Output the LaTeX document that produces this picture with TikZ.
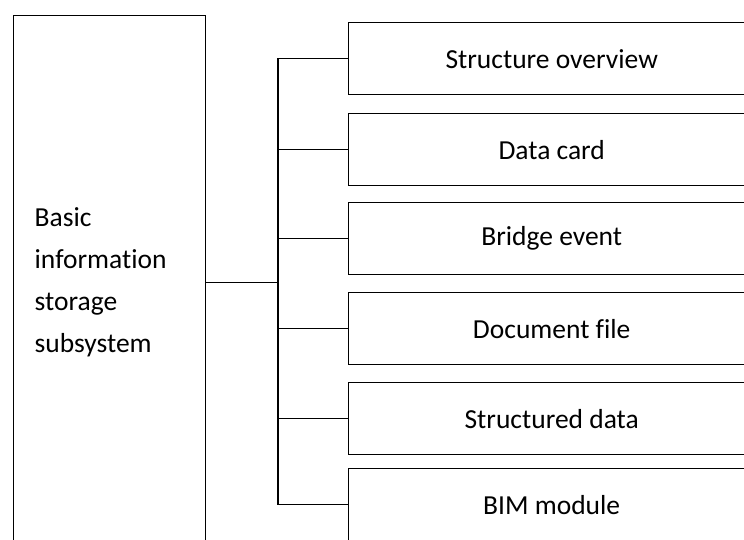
\documentclass[tikz,border=0pt]{standalone}
\usepackage{fontspec}
\setmainfont[Ligatures={NoCommon}]{Carlito}
\begin{document}
\begin{tikzpicture}[x=1pt,y=-1pt,
  line width=1.4pt,
  every node/.style={font=\fontsize{27.5}{42}\selectfont},
  itembox/.style={draw, minimum width=406pt, minimum height=72pt, anchor=north west, inner sep=0pt},
  basebox/.style={draw, minimum width=192pt, minimum height=534pt, text width=150pt, inner xsep=21pt, align=left, anchor=north west}]
\useasboundingbox (0,0) rectangle (744,539);
\clip (0,0) rectangle (744,539);
\node[basebox] (base) at (13,15) {Basic\\information\\storage\\subsystem};
\node[itembox] (b1) at (348,22) {Structure overview};
\node[itembox] (b2) at (348,113) {Data card};
\node[itembox] (b3) at (348,202) {Bridge event};
\node[itembox] (b4) at (348,292) {Document file};
\node[itembox] (b5) at (348,382) {Structured data};
\node[itembox] (b6) at (348,468) {BIM module};
\coordinate (bt) at (278,58);
\coordinate (bb) at (278,504);
\draw (b1.west) -- (bt |- b1.west) -- (bb |- b6.west) -- (b6.west);
\foreach \i in {2,3,4,5} { \draw (bt |- b\i.west) -- (b\i.west); }
\draw (base.east) -- (bt |- base.east);
\end{tikzpicture}
\end{document}
